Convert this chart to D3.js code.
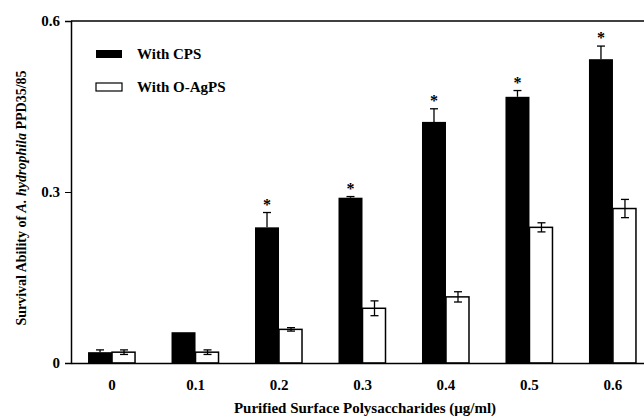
<!DOCTYPE html>
<html><head><meta charset="utf-8">
<script src="https://cdn.jsdelivr.net/npm/d3@7"></script>
<style>
html,body{margin:0;padding:0;background:#fff;}
svg{display:block;font-family:"Liberation Serif","Times New Roman",serif;font-weight:bold;}
</style></head>
<body><svg id="c" width="644" height="417"></svg>
<script>
const categories = ["0","0.1","0.2","0.3","0.4","0.5","0.6"];
const cpsValues = [0.019, 0.054, 0.238, 0.290, 0.423, 0.467, 0.533];
const cpsErrors = [0.004, 0, 0.026, 0.002, 0.023, 0.011, 0.023];
const oagValues = [0.019, 0.019, 0.059, 0.096, 0.116, 0.238, 0.271];
const oagErrors = [0.004, 0.004, 0.003, 0.013, 0.009, 0.008, 0.016];
const significant = [false, false, true, true, true, true, true];
const yTicks = [0, 0.3, 0.6];
const yTickLabels = ["0", "0.3", "0.6"];
const seriesNames = ["With CPS", "With O-AgPS"];

const svg = d3.select("#c");
const mLeft = 71, mRight = 654, mTop = 21, mBottom = 363;

const y = d3.scaleLinear().domain([0, 0.6]).range([mBottom, mTop]);
const x = d3.scaleBand().domain(categories).range([mLeft, mRight]).paddingInner(0.425).paddingOuter(0.204);
const xs = d3.scaleBand().domain([0, 1]).range([0, x.bandwidth()]);

// frame top
svg.append("line").attr("x1", mLeft).attr("x2", 644).attr("y1", mTop).attr("y2", mTop)
  .attr("stroke", "#000").attr("stroke-width", 1.5);

// bars
const rows = categories.map((c, i) => ({c, i}));
const g = svg.append("g");
g.selectAll("rect.cps").data(rows).join("rect")
  .attr("x", d => x(d.c) + xs(0)).attr("width", xs.bandwidth())
  .attr("y", d => y(cpsValues[d.i])).attr("height", d => mBottom - y(cpsValues[d.i]))
  .attr("fill", "#000");
g.selectAll("rect.oag").data(rows).join("rect")
  .attr("x", d => x(d.c) + xs(1)).attr("width", xs.bandwidth() - 1)
  .attr("y", d => y(oagValues[d.i])).attr("height", d => mBottom - y(oagValues[d.i]))
  .attr("fill", "#fff").attr("stroke", "#000").attr("stroke-width", 1.5);

// error bars
const cap = 4;
rows.forEach(d => {
  const cx = x(d.c) + xs(0) + xs.bandwidth() / 2;
  if (cpsErrors[d.i] > 0) {
    const y0 = y(cpsValues[d.i]), y1 = y(cpsValues[d.i] + cpsErrors[d.i]);
    g.append("line").attr("x1", cx).attr("x2", cx).attr("y1", y0).attr("y2", y1).attr("stroke", "#000").attr("stroke-width", 1.3);
    g.append("line").attr("x1", cx - cap).attr("x2", cx + cap).attr("y1", y1).attr("y2", y1).attr("stroke", "#000").attr("stroke-width", 1.3);
  }
  const wx = x(d.c) + xs(1) + xs.bandwidth() / 2;
  const a = y(oagValues[d.i] + oagErrors[d.i]), b = y(oagValues[d.i] - oagErrors[d.i]);
  g.append("line").attr("x1", wx).attr("x2", wx).attr("y1", a).attr("y2", b).attr("stroke", "#000").attr("stroke-width", 1.3);
  [a, b].forEach(yy => g.append("line").attr("x1", wx - cap).attr("x2", wx + cap).attr("y1", yy).attr("y2", yy).attr("stroke", "#000").attr("stroke-width", 1.3));
  if (significant[d.i]) {
    g.append("text").attr("x", cx).attr("y", y(cpsValues[d.i] + cpsErrors[d.i]) - 3)
      .attr("text-anchor", "middle").attr("font-size", 16).text("*");
  }
});

// y axis
const yAxis = d3.axisLeft(y).tickValues(yTicks).tickFormat((d, i) => yTickLabels[i]).tickSizeOuter(0).tickSize(6).tickPadding(5);
const ya = svg.append("g").attr("transform", `translate(${mLeft},0)`).call(yAxis);
ya.select(".domain").attr("stroke-width", 1.5);
ya.selectAll("text").attr("font-size", 15).attr("font-family", "Liberation Serif").attr("font-weight", "bold");

// x axis
const xAxis = d3.axisBottom(x).tickSize(0).tickSizeOuter(0).tickPadding(16);
const xa = svg.append("g").attr("transform", `translate(0,${mBottom})`).call(xAxis);
xa.select(".domain").attr("stroke-width", 1.5);
xa.selectAll("text").attr("font-size", 15).attr("font-family", "Liberation Serif").attr("font-weight", "bold");

// axis titles
svg.append("text").attr("x", 365).attr("y", 413).attr("text-anchor", "middle").attr("font-size", 15)
  .text("Purified Surface Polysaccharides (μg/ml)");
const yt = svg.append("text").attr("transform", "translate(26,198) rotate(-90)").attr("text-anchor", "middle").attr("font-size", 14);
yt.append("tspan").text("Survival Ability of ");
yt.append("tspan").attr("font-style", "italic").text("A. hydrophila");
yt.append("tspan").text(" PPD35/85");

// legend
const lg = svg.append("g");
seriesNames.forEach((n, i) => {
  const ly = 50 + i * 33;
  lg.append("rect").attr("x", 96).attr("y", ly).attr("width", 26).attr("height", 8)
    .attr("fill", i === 0 ? "#000" : "#fff").attr("stroke", "#000").attr("stroke-width", i === 0 ? 0 : 1.2);
  lg.append("text").attr("x", 137).attr("y", ly + 8.5).attr("font-size", 15).text(n);
});
</script></body></html>
